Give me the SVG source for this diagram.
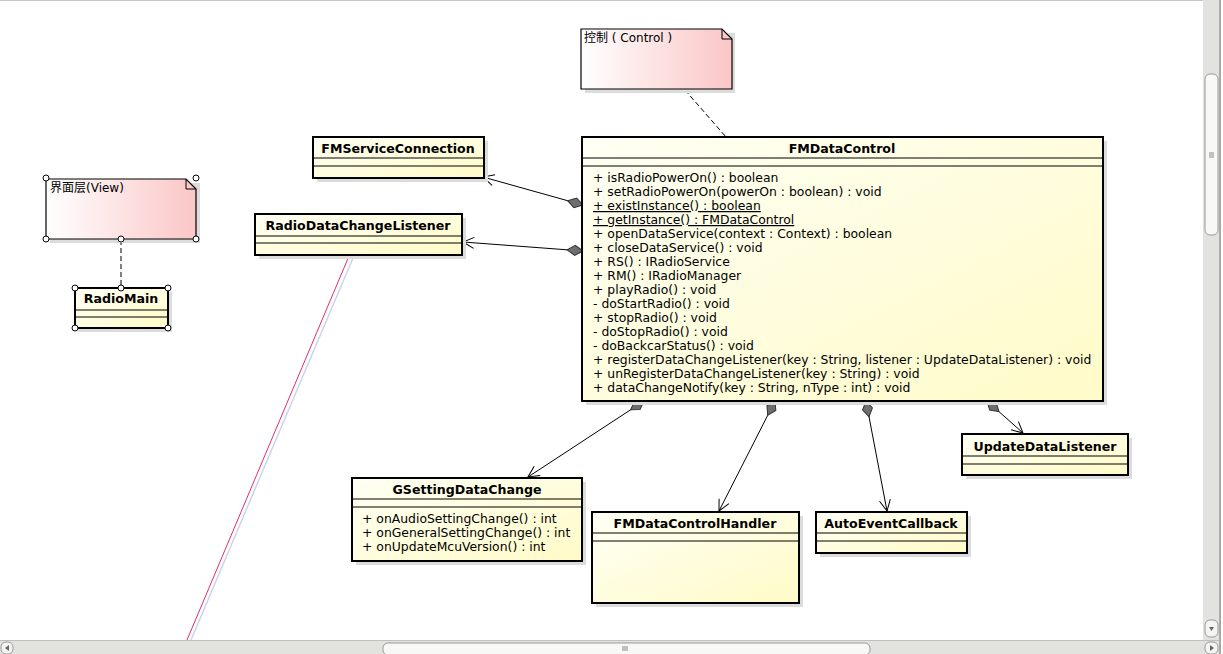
<svg xmlns="http://www.w3.org/2000/svg" width="1223" height="654" viewBox="0 0 1223 654">
<style>
.cls{stroke:#000;stroke-width:2;fill:url(#gy)}
.note{stroke:#000;stroke-width:1.2;fill:url(#gp)}
.sh{fill:#dcdcdc}
.sep{stroke:#000;stroke-width:1.2}
.t{font-family:"DejaVu Sans","Noto Sans CJK SC",sans-serif;font-size:12.4px;fill:#000}
.n{font-family:"DejaVu Sans","Noto Sans CJK SC",sans-serif;font-size:12px;fill:#000}
.b{font-family:"DejaVu Sans",sans-serif;font-size:12.6px;font-weight:bold;text-anchor:middle;fill:#000}
.con{stroke:#000;stroke-width:1;fill:none;marker-start:url(#dia);marker-end:url(#arr)}
.dash{stroke:#000;stroke-width:1;stroke-dasharray:5,3;fill:none}
.h{fill:#fff;stroke:#000;stroke-width:1}
</style>
<defs>
<linearGradient id="gy" x1="0" y1="0" x2="1" y2="1">
<stop offset="0" stop-color="#fffff4"/><stop offset="1" stop-color="#fffbc8"/>
</linearGradient>
<linearGradient id="gp" x1="0" y1="0" x2="1" y2="0">
<stop offset="0" stop-color="#ffffff"/><stop offset="1" stop-color="#fbc6c6"/>
</linearGradient>
<marker id="dia" markerUnits="userSpaceOnUse" markerWidth="20" markerHeight="12" refX="0" refY="6" orient="auto" overflow="visible">
<path d="M0,6 L8,1 L16,6 L8,11 Z" fill="#6e6e6e" stroke="#333" stroke-width="1"/>
</marker>
<marker id="arr" markerUnits="userSpaceOnUse" markerWidth="14" markerHeight="14" refX="12" refY="7" orient="auto" overflow="visible">
<path d="M1,1.5 L12,7 L1,12.5" fill="none" stroke="#000" stroke-width="1"/>
</marker>
</defs>
<rect width="1223" height="654" fill="#fff"/>

<!-- stray pink line -->
<line x1="353" y1="258" x2="191" y2="640" stroke="#c8d4ee" stroke-width="1.5"/>
<line x1="349" y1="256" x2="187" y2="640" stroke="#e0306a" stroke-width="1"/>

<g id="connectors">
<line class="dash" x1="685" y1="90" x2="726" y2="137"/>
<line class="dash" x1="121" y1="240" x2="121" y2="288"/>
<line class="con" x1="583" y1="205" x2="483" y2="177"/>
<line class="con" x1="583" y1="251" x2="463" y2="242"/>
<line class="con" x1="644" y1="401" x2="528" y2="477"/>
<line class="con" x1="775" y1="401" x2="719" y2="511"/>
<line class="con" x1="866" y1="401" x2="887" y2="511"/>
<line class="con" x1="987" y1="401" x2="1023" y2="433"/>
</g>

<g id="noteControl">
<path class="sh" d="M585,33 H735 V93 H585 Z"/>
<path class="note" d="M581,29 H722 L732,39 V89 H581 Z"/>
<path d="M722,29 V39 H732" fill="none" stroke="#000" stroke-width="1"/>
<text class="n" x="584" y="42">控制 ( Control )</text>
</g>

<g id="noteView">
<path class="sh" d="M50,183 H200 V243 H50 Z"/>
<path class="note" d="M46,179 H186 L196,189 V239 H46 Z"/>
<path d="M186,179 V189 H196" fill="none" stroke="#000" stroke-width="1"/>
<text class="n" x="50" y="192">界面层(View)</text>
<circle class="h" cx="46" cy="178" r="3"/>
<circle class="h" cx="196" cy="178" r="3"/>
<circle class="h" cx="46" cy="239" r="3"/>
<circle class="h" cx="121" cy="239" r="3"/>
<circle class="h" cx="196" cy="239" r="3"/>
</g>

<g id="RadioMain">
<rect class="sh" x="78" y="292" width="94" height="40"/>
<rect class="cls" x="75" y="288" width="93" height="40"/>
<text class="b" x="121" y="303">RadioMain</text>
<line class="sep" x1="75" y1="310" x2="168" y2="310"/>
<line class="sep" x1="75" y1="317" x2="168" y2="317"/>
<circle class="h" cx="75" cy="288" r="3"/>
<circle class="h" cx="121" cy="288" r="3"/>
<circle class="h" cx="168" cy="288" r="3"/>
<circle class="h" cx="75" cy="328" r="3"/>
<circle class="h" cx="168" cy="328" r="3"/>
</g>

<g id="FMServiceConnection">
<rect class="sh" x="317" y="141" width="171" height="41"/>
<rect class="cls" x="313" y="137" width="171" height="41"/>
<text class="b" x="398" y="153">FMServiceConnection</text>
<line class="sep" x1="313" y1="158" x2="484" y2="158"/>
<line class="sep" x1="313" y1="166" x2="484" y2="166"/>
</g>

<g id="RadioDataChangeListener">
<rect class="sh" x="259" y="218" width="207" height="41"/>
<rect class="cls" x="255" y="214" width="207" height="41"/>
<text class="b" x="358" y="230">RadioDataChangeListener</text>
<line class="sep" x1="255" y1="236" x2="462" y2="236"/>
<line class="sep" x1="255" y1="243" x2="462" y2="243"/>
</g>

<g id="FMDataControl">
<rect class="sh" x="586" y="141" width="521" height="264"/>
<rect class="cls" x="582" y="137" width="521" height="264"/>
<text class="b" x="842" y="153">FMDataControl</text>
<line class="sep" x1="582" y1="158" x2="1103" y2="158"/>
<line class="sep" x1="582" y1="166" x2="1103" y2="166"/>
<text class="t" x="593" y="182">+ isRadioPowerOn() : boolean</text>
<text class="t" x="593" y="196">+ setRadioPowerOn(powerOn : boolean) : void</text>
<text class="t" x="593" y="210" text-decoration="underline">+ existInstance() : boolean</text>
<text class="t" x="593" y="224" text-decoration="underline">+ getInstance() : FMDataControl</text>
<text class="t" x="593" y="238">+ openDataService(context : Context) : boolean</text>
<text class="t" x="593" y="252">+ closeDataService() : void</text>
<text class="t" x="593" y="266">+ RS() : IRadioService</text>
<text class="t" x="593" y="280">+ RM() : IRadioManager</text>
<text class="t" x="593" y="294">+ playRadio() : void</text>
<text class="t" x="593" y="308">- doStartRadio() : void</text>
<text class="t" x="593" y="322">+ stopRadio() : void</text>
<text class="t" x="593" y="336">- doStopRadio() : void</text>
<text class="t" x="593" y="350">- doBackcarStatus() : void</text>
<text class="t" x="593" y="364">+ registerDataChangeListener(key : String, listener : UpdateDataListener) : void</text>
<text class="t" x="593" y="378">+ unRegisterDataChangeListener(key : String) : void</text>
<text class="t" x="593" y="392">+ dataChangeNotify(key : String, nType : int) : void</text>
</g>

<g id="GSettingDataChange">
<rect class="sh" x="356" y="482" width="230" height="83"/>
<rect class="cls" x="352" y="478" width="230" height="83"/>
<text class="b" x="467" y="494">GSettingDataChange</text>
<line class="sep" x1="352" y1="499" x2="582" y2="499"/>
<line class="sep" x1="352" y1="507" x2="582" y2="507"/>
<text class="t" x="362" y="523">+ onAudioSettingChange() : int</text>
<text class="t" x="362" y="537">+ onGeneralSettingChange() : int</text>
<text class="t" x="362" y="551">+ onUpdateMcuVersion() : int</text>
</g>

<g id="FMDataControlHandler">
<rect class="sh" x="596" y="516" width="207" height="91"/>
<rect class="cls" x="592" y="512" width="207" height="91"/>
<text class="b" x="695" y="528">FMDataControlHandler</text>
<line class="sep" x1="592" y1="533" x2="799" y2="533"/>
<line class="sep" x1="592" y1="541" x2="799" y2="541"/>
</g>

<g id="AutoEventCallback">
<rect class="sh" x="820" y="516" width="151" height="41"/>
<rect class="cls" x="816" y="512" width="151" height="41"/>
<text class="b" x="891" y="528">AutoEventCallback</text>
<line class="sep" x1="816" y1="533" x2="967" y2="533"/>
<line class="sep" x1="816" y1="541" x2="967" y2="541"/>
</g>

<g id="UpdateDataListener">
<rect class="sh" x="966" y="438" width="166" height="41"/>
<rect class="cls" x="962" y="434" width="166" height="41"/>
<text class="b" x="1045" y="451">UpdateDataListener</text>
<line class="sep" x1="962" y1="456" x2="1128" y2="456"/>
<line class="sep" x1="962" y1="464" x2="1128" y2="464"/>
</g>

<!-- scrollbars -->
<g id="scrollbars">
<line x1="0" y1="0.5" x2="1205" y2="0.5" stroke="#c8c8c8"/>
<rect x="1203" y="0" width="16" height="640" fill="#e2e2de"/>
<line x1="1220" y1="0" x2="1220" y2="654" stroke="#555" stroke-width="1"/>
<rect x="1205" y="74" width="13" height="161" rx="5" fill="#f8f8f6" stroke="#9a9a96"/>
<line x1="1209" y1="153" x2="1214" y2="153" stroke="#888"/>
<line x1="1209" y1="155" x2="1214" y2="155" stroke="#888"/>
<line x1="1209" y1="157" x2="1214" y2="157" stroke="#888"/>
<rect x="1205" y="620" width="13" height="17" rx="5" fill="#f4f4f2" stroke="#9a9a96"/>
<path d="M1209,627 L1214,627 L1211.5,631 Z" fill="#666"/>
<rect x="0" y="640" width="1219" height="14" fill="#e2e2de"/>
<line x1="0" y1="640.5" x2="1219" y2="640.5" stroke="#c0c0bc"/>
<rect x="1" y="642" width="12" height="12" rx="5" fill="#f4f4f2" stroke="#9a9a96"/>
<path d="M9,645 L9,651 L5,648 Z" fill="#666"/>
<rect x="383" y="643" width="487" height="12" rx="5" fill="#f8f8f6" stroke="#9a9a96"/>
<line x1="623" y1="646" x2="623" y2="651" stroke="#888"/>
<line x1="625" y1="646" x2="625" y2="651" stroke="#888"/>
<line x1="627" y1="646" x2="627" y2="651" stroke="#888"/>
<rect x="1205" y="642" width="13" height="12" rx="5" fill="#f4f4f2" stroke="#9a9a96"/>
<path d="M1210,645 L1210,651 L1214,648 Z" fill="#666"/>
</g>
</svg>
